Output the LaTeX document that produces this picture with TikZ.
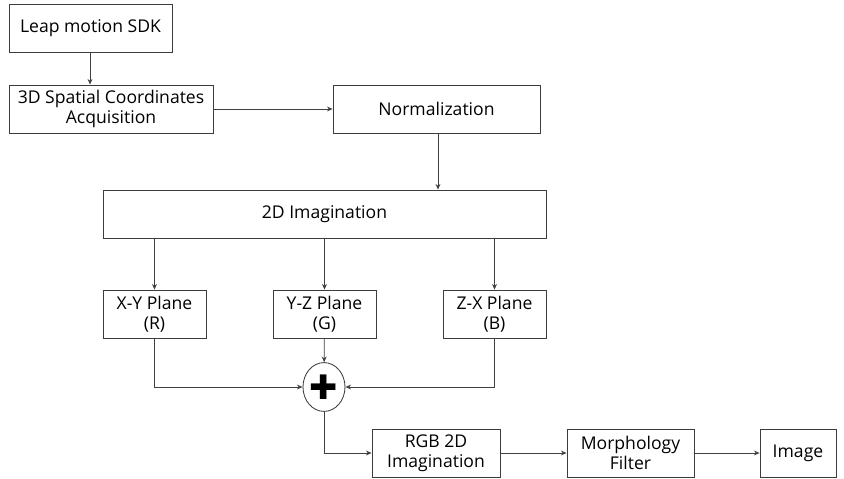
\documentclass[tikz,border=0pt]{standalone}
\usepackage{fontspec}
\setmainfont{Open Sans}
\newfontfamily\symfont{DejaVu Sans}
\usetikzlibrary{arrows.meta, shapes.geometric, positioning, calc}
\definecolor{boxline}{RGB}{60,60,60}

\begin{document}
\begin{tikzpicture}[
  x=0.025cm, y=-0.025cm,
  box/.style={draw=boxline, fill=white, line width=0.6pt, align=center,
              inner sep=1pt, minimum height=1.2cm, font=\fontsize{12.5}{14.5}\selectfont},
  sumnode/.style={draw=boxline, ellipse, line width=0.6pt, minimum width=1.05cm,
              minimum height=1.22cm, inner sep=0pt},
  arr/.style={-{Stealth[length=4pt,width=3.5pt]}, line width=0.5pt, black!75}
]
\useasboundingbox (0,0) rectangle (844,479);
% top row
\node[box, minimum width=4.075cm] (lm) at (90.5,28.5) {Leap motion SDK};
\node[box, minimum width=5.1cm] (sc) at (111,109) {3D Spatial Coordinates\\Acquisition};
\node[box, minimum width=5.175cm] (nm) at (436.5,109) {Normalization};
% imaging
\node[box, minimum width=11.075cm] (im) at (324.5,214) {2D Imagination};
\node[box, minimum width=2.575cm] (xy) at (154.5,314) {X-Y Plane\\(R)};
\node[box, minimum width=2.575cm] (yz) at (324.5,314) {Y-Z Plane\\(G)};
\node[box, minimum width=2.575cm] (zx) at (494.5,314) {Z-X Plane\\(B)};
\node[sumnode] (sum) at (324,387) {\symfont\fontsize{24}{24}\selectfont ✚};
% output row
\node[box, minimum width=3.2cm] (rgb) at (436,453) {RGB 2D\\Imagination};
\node[box, minimum width=3.175cm] (mf) at (630.5,453) {Morphology\\Filter};
\node[box, minimum width=1.9cm] (img) at (798,453) {Image};

\draw[arr] (lm.south -| 90,0) -- (sc.north -| 90,0);
\draw[arr] (sc) -- (nm);
\draw[arr] (nm.south -| 438,0) -- (im.north -| 438,0);
\foreach \p in {xy,yz,zx}
  \draw[arr] (im.south -| \p.north) -- (\p);
\draw[arr] (xy) |- (sum);
\draw[arr] (zx) |- (sum);
\draw[arr] (yz) -- (sum);
\draw[arr] (sum) |- (rgb);
\draw[arr] (rgb) -- (mf);
\draw[arr] (mf) -- (img);
\end{tikzpicture}
\end{document}
